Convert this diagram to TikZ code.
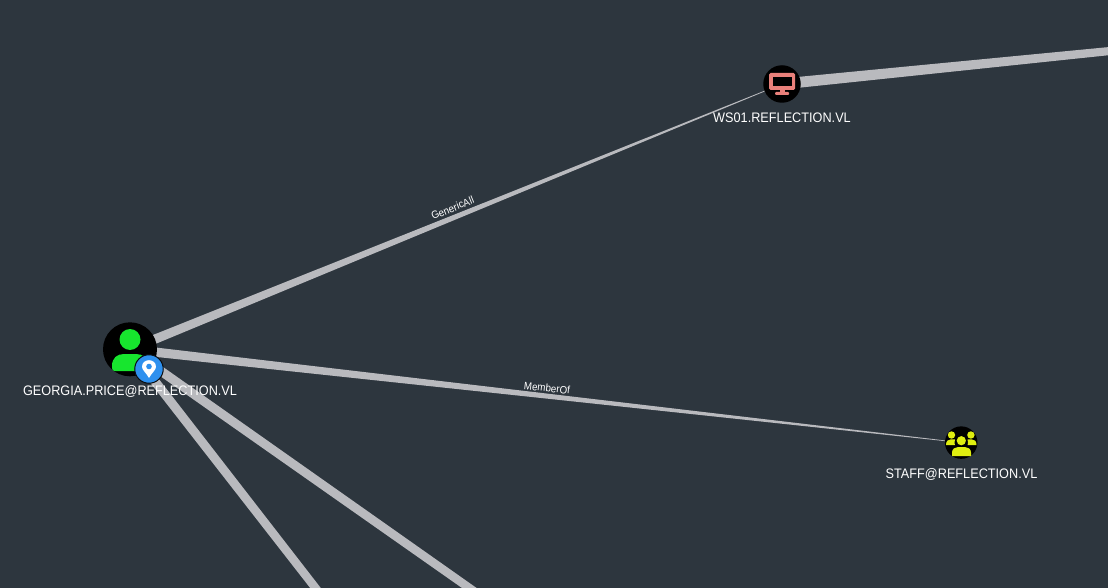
\documentclass[tikz,border=0pt]{standalone}
\usepackage{fontspec}
\setmainfont{Liberation Sans}
\newfontfamily\lab[FakeStretch=0.92]{Liberation Sans}
\usetikzlibrary{calc}
\definecolor{bg}{HTML}{2D363E}
\definecolor{edgec}{HTML}{B9BABE}
\definecolor{pgreen}{HTML}{17E62E}
\definecolor{cred}{HTML}{E9807A}
\definecolor{gyellow}{HTML}{DFEE10}
\definecolor{pinblue}{HTML}{2E90EE}
\tikzset{
  x=1pt,y=-1pt,
  vertex/.style={circle,fill=black,inner sep=0pt,minimum size=#1},
  nodelabel/.style={text=white,font=\lab\fontsize{13.8}{16}\selectfont,inner sep=0pt},
  edgelabel/.style={text=white,font=\lab\fontsize{10.6}{12}\selectfont,inner sep=0pt},
}
\newcommand{\taper}[4]{%
  \fill[edgec] ($(#1)!#3pt!90:(#2)$) -- ($(#2)!#4pt!-90:(#1)$) -- ($(#2)!#4pt!90:(#1)$) -- ($(#1)!#3pt!-90:(#2)$) -- cycle;}
\begin{document}
\begin{tikzpicture}
\useasboundingbox (0,0) rectangle (1108,588);
\fill[bg] (0,0) rectangle (1108,588);
\clip (0,0) rectangle (1108,588);
\coordinate (gc) at (130,349.3);
\coordinate (wc) at (782,84);
\coordinate (sc) at (961.2,442.6);
\coordinate (offa) at (1120,50);
\coordinate (offb) at (475,592);
\coordinate (offc) at (318.6,592);
\taper{gc}{wc}{4.8}{0.25}
\taper{gc}{sc}{4.8}{0.25}
\taper{wc}{offa}{5.5}{4}
\taper{gc}{offb}{4.6}{4.2}
\taper{gc}{offc}{4.6}{4.2}
\node[vertex=54pt] (georgia) at (gc) {};
\node[vertex=37.5pt] (ws) at (wc) {};
\node[vertex=32.5pt] (staff) at (sc) {};
% person icon
\fill[pgreen] (130,339.5) circle (10.5);
\fill[pgreen] (115,371) .. controls (113,371) and (112,370) .. (112,368) -- (112,366) .. controls (112,358) and (117,354) .. (124,354) -- (136,354) .. controls (143,354) and (148,358) .. (148,366) -- (148,368) .. controls (148,370) and (147,371) .. (145,371) -- cycle;
% badge
\node[circle,fill=pinblue,draw=black!75!bg,line width=1pt,minimum size=28.5pt,inner sep=0pt] (badge) at (149,369) {};
\fill[white] (149,378) .. controls (146,372.5) and (142,370) .. (142,366.8) .. controls (142,358) and (156,358) .. (156,366.8) .. controls (156,370) and (152,372.5) .. (149,378) -- cycle;
\fill[pinblue] (149,366.5) circle (2.8);
% monitor
\fill[cred,rounded corners=1.5pt] (769,73) rectangle (795,90);
\fill[black] (772.7,76.7) rectangle (791.7,85.7);
\fill[cred] (780,90) rectangle (785,93);
\fill[cred,rounded corners=1pt] (775,92) rectangle (789,95);
% group
\fill[gyellow] (961.3,440.7) circle (4.6);
\fill[gyellow] (951.5,435) circle (3.7);
\fill[gyellow] (970.9,435) circle (3.7);
\fill[gyellow] (952,456) -- (952,452.5) .. controls (952,449) and (955,447) .. (958,447) -- (965,447) .. controls (968,447) and (971,449) .. (971,452.5) -- (971,456) -- cycle;
\fill[gyellow] (946,445) .. controls (946,441) and (948,439.3) .. (951,439.3) -- (955,439.3) .. controls (954.5,441) and (954.5,443) .. (954.8,445) -- cycle;
\fill[gyellow] (976.5,445) .. controls (976.5,441) and (974.5,439.3) .. (971.5,439.3) -- (967.5,439.3) .. controls (968,441) and (968,443) .. (967.7,445) -- cycle;
% labels
\node[nodelabel] (lg) at (130,391) {GEORGIA.PRICE@REFLECTION.VL};
\node[nodelabel] (lw) at (782,118) {WS01.REFLECTION.VL};
\node[nodelabel] (ls) at (961.5,474) {STAFF@REFLECTION.VL};
\node[edgelabel,rotate=22] (e1) at (452.5,208) {GenericAll};
\node[edgelabel,rotate=-6] (e2) at (547,388) {MemberOf};
\end{tikzpicture}
\end{document}
